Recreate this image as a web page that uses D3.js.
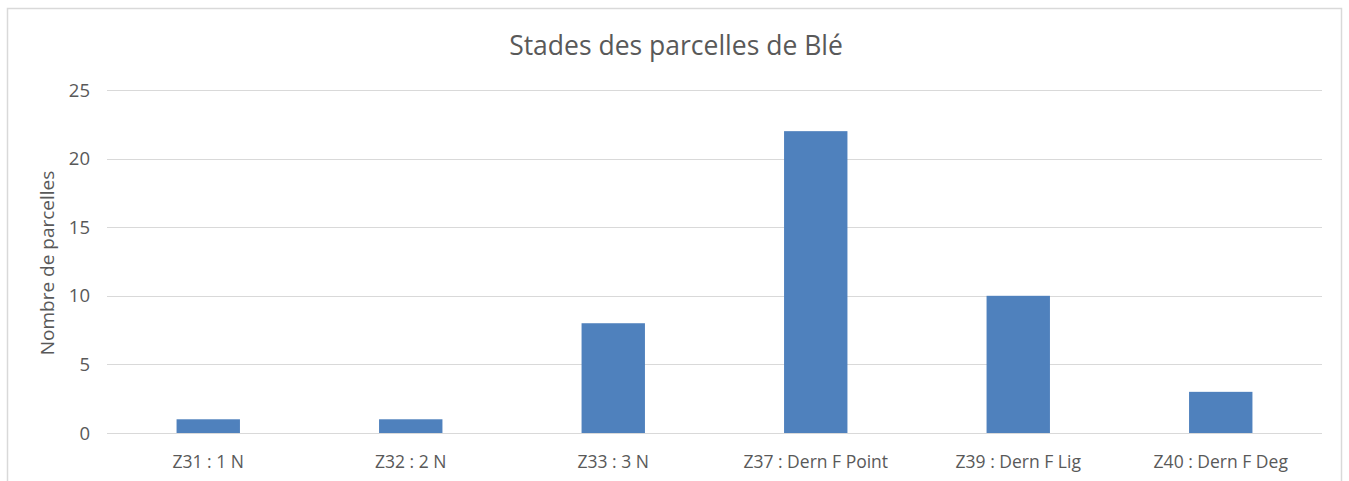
<!DOCTYPE html>
<html><head><meta charset="utf-8">
<script src="https://cdn.jsdelivr.net/npm/d3@7"></script>
<style>html,body{margin:0;padding:0;background:#fff;}svg{display:block;}</style>
</head><body>
<script>
const categories = ["Z31 : 1 N","Z32 : 2 N","Z33 : 3 N","Z37 : Dern F Point","Z39 : Dern F Lig","Z40 : Dern F Deg"];
const values = [1,1,8,22,10,3];
const yTicks = [0,5,10,15,20,25];
const title = "Stades des parcelles de Blé";
const yLabel = "Nombre de parcelles";

const W = 1349, H = 481;
const font = "'Open Sans', sans-serif";
const svg = d3.select("body").append("svg").attr("width", W).attr("height", H);

svg.append("rect").attr("x", 7.5).attr("y", 8.5).attr("width", 1334).attr("height", 490)
  .attr("fill", "#fff").attr("stroke", "#d9d9d9").attr("stroke-width", 1.5);

const x = d3.scaleBand().domain(categories).range([107, 1322]).padding(0);
const y = d3.scaleLinear().domain([0, 25]).range([433, 90]);

svg.append("g").selectAll("line").data(yTicks).join("line")
  .attr("x1", 107).attr("x2", 1322)
  .attr("y1", d => Math.round(y(d)) + 0.5).attr("y2", d => Math.round(y(d)) + 0.5)
  .attr("stroke", "#d9d9d9").attr("stroke-width", 1);

svg.append("g").selectAll("text").data(yTicks).join("text")
  .attr("x", 90).attr("y", d => y(d)).attr("dy", "0.36em")
  .attr("text-anchor", "end").attr("font-family", font).attr("font-size", 18.5)
  .attr("fill", "#595959").text(d => d);

const bw = x.bandwidth() * 0.313;
svg.append("g").selectAll("rect").data(values).join("rect")
  .attr("x", (d, i) => x(categories[i]) + x.bandwidth() / 2 - bw / 2)
  .attr("width", bw)
  .attr("y", d => y(d)).attr("height", d => y(0) - y(d))
  .attr("fill", "#4f81bd");

svg.append("g").selectAll("text").data(categories).join("text")
  .attr("x", d => x(d) + x.bandwidth() / 2).attr("y", 467.5)
  .attr("text-anchor", "middle").attr("font-family", font).attr("font-size", 17.5)
  .attr("fill", "#595959").text(d => d);

svg.append("text").attr("x", 676).attr("y", 55).attr("text-anchor", "middle")
  .attr("font-family", font).attr("font-size", 26.5).attr("fill", "#595959").text(title);

svg.append("text").attr("transform", "translate(54,263) rotate(-90)").attr("text-anchor", "middle")
  .attr("font-family", font).attr("font-size", 19).attr("fill", "#595959").text(yLabel);
</script>
</body></html>
